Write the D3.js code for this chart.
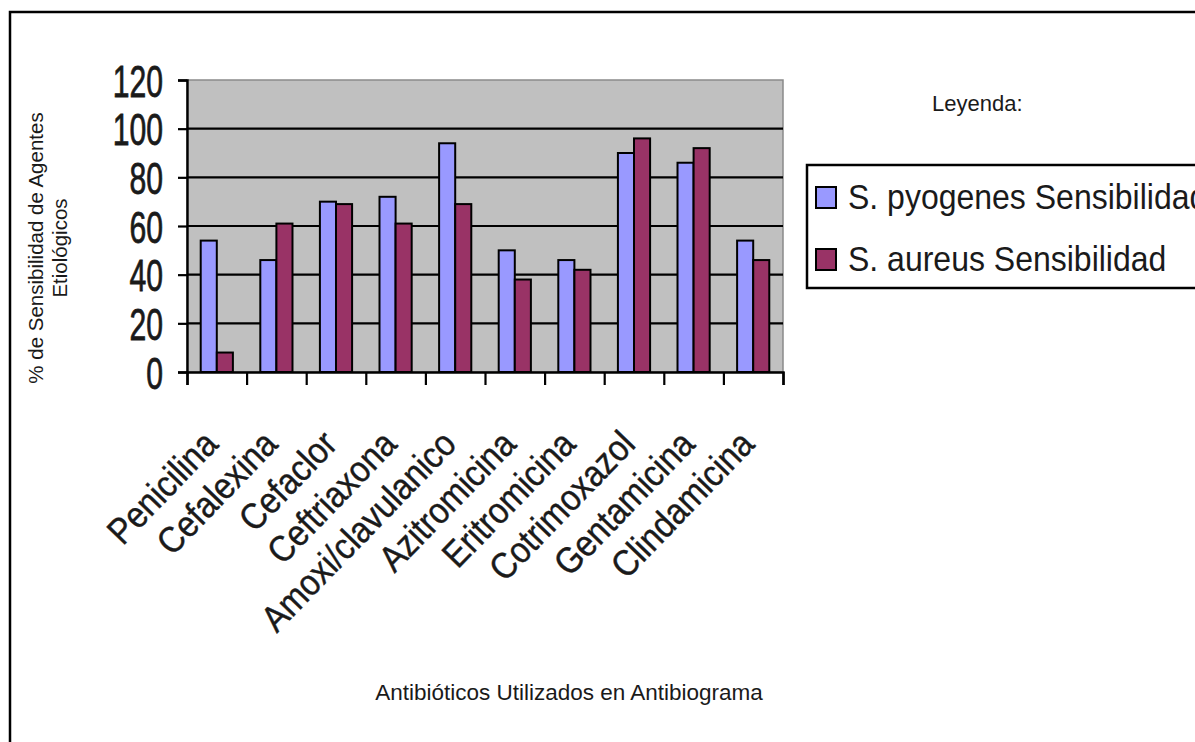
<!DOCTYPE html>
<html>
<head>
<meta charset="utf-8">
<script src="https://cdn.jsdelivr.net/npm/d3@7"></script>
<style>
  html, body { margin: 0; padding: 0; background: #ffffff; }
  svg { display: block; }
  text { font-family: "Liberation Sans", Arial, sans-serif; fill: #1a1a1a; }
</style>
</head>
<body>
<svg id="chart" width="1195" height="742"></svg>
<script>
// ---- data ----
const categories = ["Penicilina", "Cefalexina", "Cefaclor", "Ceftriaxona", "Amoxi/clavulanico",
                    "Azitromicina", "Eritromicina", "Cotrimoxazol", "Gentamicina", "Clindamicina"];
const seriesNames = ["S. pyogenes Sensibilidad", "S. aureus Sensibilidad"];
const pyogenesValues = [54, 46, 70, 72, 94, 50, 46, 90, 86, 54];
const aureusValues   = [8, 61, 69, 61, 69, 38, 42, 96, 92, 46];
const yTicks = [0, 20, 40, 60, 80, 100, 120];
const yTitleLines = ["%  de Sensibilidad de Agentes", "Etiológicos"];
const xTitle = "Antibióticos Utilizados en Antibiograma";
const legendTitle = "Leyenda:";
const colors = ["#9999FF", "#993366"];

const svg = d3.select("#chart");

// outer frame
svg.append("rect").attr("x", 10).attr("y", 12).attr("width", 1220).attr("height", 760)
  .attr("fill", "none").attr("stroke", "#000").attr("stroke-width", 2.5);

const pLeft = 187, pRight = 783, pTop = 80, pBottom = 372;

const x0 = d3.scaleBand().domain(categories).range([pLeft, pRight]).paddingInner(0.46).paddingOuter(0.23);
const x1 = d3.scaleBand().domain(seriesNames).range([0, x0.bandwidth()]);
const y = d3.scaleLinear().domain([0, 120]).range([pBottom, pTop]);
const xb = d3.scaleLinear().domain([0, categories.length]).range([pLeft, pRight]);

// plot background
svg.append("rect").attr("x", pLeft).attr("y", pTop).attr("width", pRight - pLeft).attr("height", pBottom - pTop)
  .attr("fill", "#C0C0C0").attr("stroke", "#8a8a8a").attr("stroke-width", 1.5);

// gridlines
svg.append("g").selectAll("line").data(yTicks.filter(d => d > 0 && d < 120)).join("line")
  .attr("x1", pLeft).attr("x2", pRight).attr("y1", d => y(d)).attr("y2", d => y(d))
  .attr("stroke", "#000").attr("stroke-width", 2.2);

// bars
const rows = categories.map((c, i) => ({ cat: c, vals: [pyogenesValues[i], aureusValues[i]] }));
const groups = svg.append("g").selectAll("g").data(rows).join("g")
  .attr("transform", d => `translate(${x0(d.cat)},0)`);
groups.selectAll("rect").data(d => d.vals.map((v, k) => ({ v, k }))).join("rect")
  .attr("x", d => x1(seriesNames[d.k]))
  .attr("y", d => y(d.v))
  .attr("width", x1.bandwidth())
  .attr("height", d => y(0) - y(d.v))
  .attr("fill", d => colors[d.k])
  .attr("stroke", "#000").attr("stroke-width", 2);

// y axis
const yAxis = svg.append("g").attr("transform", `translate(${pLeft},0)`)
  .call(d3.axisLeft(y).tickValues(yTicks).tickSize(9).tickFormat(d3.format("d")));
yAxis.select(".domain").attr("stroke", "#000").attr("stroke-width", 2.4);
yAxis.selectAll(".tick line").attr("stroke", "#000").attr("stroke-width", 2.2);
yAxis.selectAll(".tick text")
  .attr("x", null).attr("dy", "0.36em")
  .attr("transform", "translate(-24,0) scale(0.67,1)")
  .attr("text-anchor", "end")
  .style("font-size", "45px").style("font-family", "'Liberation Sans', Arial, sans-serif")
  .attr("fill", "#1a1a1a").attr("stroke", "#1a1a1a").attr("stroke-width", 0.8);

// x axis boundary ticks
const xTickAxis = svg.append("g").attr("transform", `translate(0,${pBottom})`)
  .call(d3.axisBottom(xb).ticks(categories.length).tickSize(13).tickFormat(""));
xTickAxis.select(".domain").attr("stroke", "#000").attr("stroke-width", 2.4);
xTickAxis.selectAll(".tick line").attr("stroke", "#000").attr("stroke-width", 2.2);

// x axis labels
const xLab = svg.append("g").attr("transform", `translate(0,${pBottom})`)
  .call(d3.axisBottom(x0).tickSize(0).tickPadding(0));
xLab.select(".domain").remove();
xLab.selectAll(".tick text")
  .attr("y", null).attr("dy", null)
  .attr("text-anchor", "end")
  .attr("transform", "translate(3,74) rotate(-46) scale(0.96,1.08)")
  .style("font-size", "34px").style("font-family", "'Liberation Sans', Arial, sans-serif")
  .attr("fill", "#1a1a1a").attr("stroke", "#1a1a1a").attr("stroke-width", 0.4);

// y title
const yt = svg.append("text").attr("transform", "translate(0,248) rotate(-90)")
  .attr("text-anchor", "middle").style("font-size", "20.5px");
yt.append("tspan").attr("x", 0).attr("y", 43).text(yTitleLines[0]);
yt.append("tspan").attr("x", 0).attr("y", 67).text(yTitleLines[1]);

// x title
svg.append("text").attr("x", 569).attr("y", 700).attr("text-anchor", "middle")
  .style("font-size", "22.5px").text(xTitle);

// legend
svg.append("text").attr("x", 932).attr("y", 111).style("font-size", "22px").text(legendTitle);
svg.append("rect").attr("x", 807).attr("y", 165).attr("width", 420).attr("height", 123)
  .attr("fill", "#fff").attr("stroke", "#000").attr("stroke-width", 2.5);
const leg = svg.append("g").selectAll("g").data(seriesNames).join("g")
  .attr("transform", (d, i) => `translate(816,${197 + i * 62})`);
leg.append("rect").attr("x", 0).attr("y", -10).attr("width", 20).attr("height", 21)
  .attr("fill", (d, i) => colors[i]).attr("stroke", "#000").attr("stroke-width", 2);
leg.append("text").attr("x", 32).attr("y", 0).attr("dy", "0.36em")
  .attr("transform", "scale(1,1.08)")
  .style("font-size", "32px").text(d => d);
</script>
</body>
</html>
